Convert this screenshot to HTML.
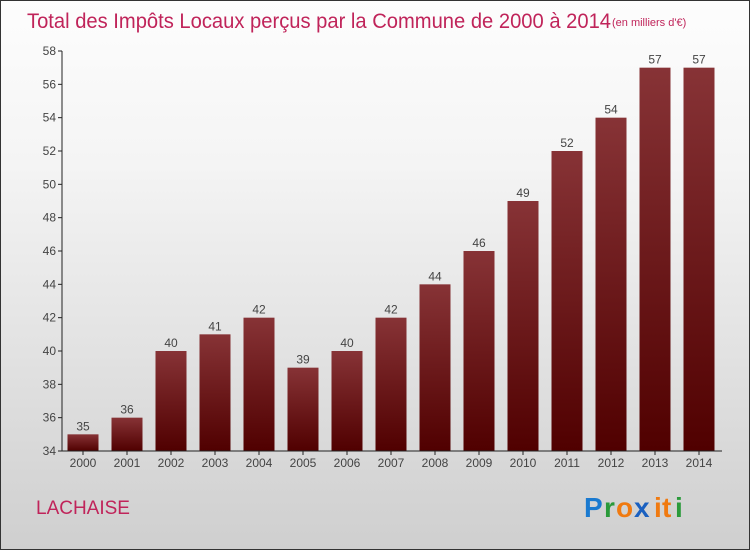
<!DOCTYPE html>
<html><head><meta charset="utf-8"><style>
body{margin:0}
#c{position:relative;width:748px;height:548px;border:1px solid #333;background:linear-gradient(#fdfdfd,#f4f4f4 30%,#cfcfcf);overflow:hidden;font-family:"Liberation Sans",sans-serif}
</style></head><body>
<div id="c">
<svg width="748" height="548" style="position:absolute;left:0;top:0" id="svg">
<defs><linearGradient id="bg" x1="0" y1="0" x2="0" y2="1"><stop offset="0" stop-color="#873336"/><stop offset="1" stop-color="#500000"/></linearGradient></defs>
<text x="26" y="27" font-size="21" fill="#c0245a" textLength="584" lengthAdjust="spacingAndGlyphs">Total des Impôts Locaux perçus par la Commune de 2000 à 2014</text>
<text x="611" y="25" font-size="11" fill="#c0245a">(en milliers d'€)</text>
<text x="35" y="513" font-size="19" fill="#c0245a">LACHAISE</text>
<g font-size="28" font-weight="bold" font-family="Liberation Sans,sans-serif">
<text x="583" y="516" fill="#1a7ad0">P</text><text x="603" y="516" fill="#2a9a3a">r</text><text x="615" y="516" fill="#f07a10">o</text><text x="633" y="516" fill="#1a60c0">x</text><text x="653" y="516" fill="#f07a10">i</text><text x="661" y="516" fill="#f07a10">t</text><text x="674" y="516" fill="#2a9a3a">i</text>
</g>
<g id="g"></g>
</svg>
</div>
<script>
const categories=["2000","2001","2002","2003","2004","2005","2006","2007","2008","2009","2010","2011","2012","2013","2014"];
const values=[35,36,40,41,42,39,40,42,44,46,49,52,54,57,57];
const yTicks=[34,36,38,40,42,44,46,48,50,52,54,56,58];
const NS="http://www.w3.org/2000/svg";
const g=document.getElementById('g');
const x0=60,x1=720,y0=450,y1=50,ymin=34,ymax=58;
const band=(x1-x0)/categories.length;
const y=v=>y0-(v-ymin)/(ymax-ymin)*(y0-y1);
const xc=i=>x0+band*(i+0.5);
function mk(t,a){const e=document.createElementNS(NS,t);for(const k in a)e.setAttribute(k,a[k]);g.appendChild(e);return e;}
values.forEach((v,i)=>{
 const r=mk('rect',{x:xc(i)-15.5,y:y(v),width:31,height:y0-y(v),fill:'url(#bg)'});
 
 
 const t=mk('text',{x:xc(i),y:y(v)-4,'text-anchor':'middle','font-size':12,fill:'#444'});t.textContent=v;
 
 
 const l=mk('text',{x:xc(i),y:466,'text-anchor':'middle','font-size':12,fill:'#444'});l.textContent=categories[i];
 
 
 mk('line',{x1:xc(i),x2:xc(i),y1:450,y2:454,stroke:'#222'});
});
yTicks.forEach(v=>{
 mk('line',{x1:57,x2:61,y1:y(v),y2:y(v),stroke:'#222'});
 const t=mk('text',{x:55,y:y(v)+4,'text-anchor':'end','font-size':12,fill:'#444'});t.textContent=v;
 
 
});
const ya=mk('line',{x1:61,x2:61,y1:50,y2:450,stroke:'#222'});


const xa=mk('line',{x1:61,x2:721,y1:450,y2:450,stroke:'#222'});


</script>
</body></html>
